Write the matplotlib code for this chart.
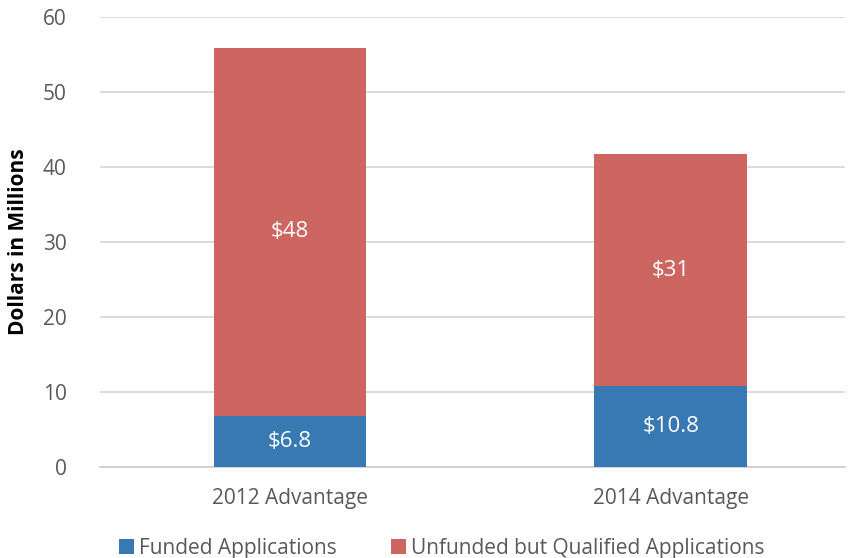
import matplotlib
matplotlib.use("Agg")
import matplotlib.pyplot as plt
import numpy as np

categories = ["2012 Advantage", "2014 Advantage"]
funded = [6.8, 10.8]
unfunded = [49.1, 30.9]
funded_labels = ["$6.8", "$10.8"]
unfunded_labels = ["$48", "$31"]
yticks = [0, 10, 20, 30, 40, 50, 60]

plt.rcParams["font.family"] = ["Open Sans", "DejaVu Sans"]

blue = "#3879b4"
red = "#cd6660"
grey_txt = "#595959"

fig = plt.figure(figsize=(8.5, 5.58), dpi=100)
ax = fig.add_axes([0.1176, 0.163, 0.876, 0.8065])

x = np.arange(len(categories))
w = 0.40
b1 = ax.bar(x, funded, w, color=blue, label="Funded Applications", zorder=3)
b2 = ax.bar(x, unfunded, w, bottom=funded, color=red,
            label="Unfunded but Qualified Applications", zorder=3)

for i in range(len(categories)):
    ax.text(x[i], funded[i] / 2, funded_labels[i], ha="center", va="center",
            color="white", fontsize=16, zorder=4)
    ax.text(x[i], funded[i] + unfunded[i] / 2, unfunded_labels[i], ha="center",
            va="center", color="white", fontsize=16, zorder=4)

ax.set_ylim(0, 60)
ax.set_xlim(-0.499, 1.457)
ax.set_yticks(yticks)
ax.set_xticks(x)
ax.set_xticklabels(categories)
ax.yaxis.grid(True, color="#d9d9d9", linewidth=1.3, zorder=0)
ax.tick_params(length=0, labelsize=15, labelcolor=grey_txt)
ax.tick_params(axis="x", pad=15)
ax.tick_params(axis="y", pad=24)
for s in ["top", "right", "left"]:
    ax.spines[s].set_visible(False)
ax.spines["bottom"].set_color("#d0d0d0")
ax.spines["bottom"].set_linewidth(1.3)

ax.set_ylabel("Dollars in Millions", fontsize=15, fontweight="bold", labelpad=10)

leg = fig.legend(handles=[b1, b2], loc="lower center", ncol=2, frameon=False,
                 bbox_to_anchor=(0.52, -0.035), fontsize=15, handlelength=0.7,
                 handleheight=0.7, handletextpad=0.25, columnspacing=2.6)
for t in leg.get_texts():
    t.set_color(grey_txt)

fig.savefig("out.png", dpi=100)
